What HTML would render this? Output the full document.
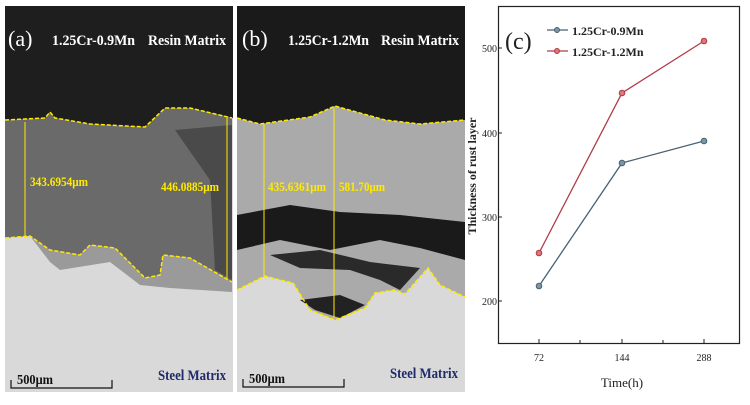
<!DOCTYPE html><html><head><style>body{margin:0;background:#fff;width:750px;height:400px;overflow:hidden}</style></head><body>
<svg width="750" height="400" xmlns="http://www.w3.org/2000/svg" font-family="Liberation Serif, serif">
<defs>
<clipPath id="ca"><rect x="5" y="6" width="228" height="386"/></clipPath>
<clipPath id="cb"><rect x="237" y="6" width="228" height="386"/></clipPath>
</defs>
<g clip-path="url(#ca)">
<rect x="5" y="6" width="228" height="386" fill="#d9d9d9"/>
<path d="M5,120 L45,118 L50,112 L55,118 L90,124 L145,127 L165,108 L190,108 L232,118 L232,282 L190,258 L163,255 L160,275 L145,278 L115,248 L90,245 L80,255 L50,250 L30,236 L5,238Z" fill="#6a6a6a"/>
<path d="M5,238 L30,236 L50,262 L60,270 L110,262 L140,285 L170,288 L232,292 L232,282 L190,258 L163,255 L160,275 L145,278 L115,248 L90,245 L80,255 L50,250 L30,236Z" fill="#9a9a9a"/>
<path d="M5,6 H233 V118 L190,108 L165,108 L145,127 L90,124 L55,118 L50,112 L45,118 L5,120Z" fill="#1e1e1e"/>
<path d="M175,130 L232,125 L232,280 L215,270 L210,180Z" fill="#4a4a4a"/>
<path d="M5,120 L45,118 L50,112 L55,118 L90,124 L145,127 L165,108 L190,108 L232,118" fill="none" stroke="#ffea00" stroke-width="1.5" stroke-dasharray="4,2"/>
<path d="M5,238 L30,236 L50,250 L80,255 L90,245 L115,248 L145,278 L160,275 L163,255 L190,258 L232,282" fill="none" stroke="#ffea00" stroke-width="1.5" stroke-dasharray="4,2"/>
<line x1="25" y1="122" x2="25" y2="236" stroke="#ffea00"/>
<line x1="227" y1="118" x2="227" y2="278" stroke="#ffea00"/>
</g>
<g clip-path="url(#cb)">
<rect x="237" y="6" width="228" height="386" fill="#d9d9d9"/>
<path d="M237,118 L260,124 L310,117 L335,106 L385,120 L420,124 L465,120 L465,297 L440,285 L428,268 L405,294 L395,290 L375,293 L365,308 L335,320 L310,310 L293,283 L280,280 L265,276 L237,290Z" fill="#aaaaaa"/>
<path d="M237,215 L290,205 L340,212 L400,215 L465,222 L465,260 L420,248 L380,240 L330,250 L280,240 L237,250Z" fill="#1a1a1a"/>
<path d="M270,255 L320,250 L370,262 L420,268 L400,290 L380,280 L350,270 L300,268Z" fill="#2a2a2a"/>
<path d="M300,300 L340,295 L365,305 L340,318 L315,310Z" fill="#222"/>
<path d="M237,6 H465 V120 L420,124 L385,120 L335,106 L310,117 L260,124 L237,118Z" fill="#1a1a1a"/>
<path d="M237,118 L260,124 L310,117 L335,106 L385,120 L420,124 L465,120" fill="none" stroke="#ffea00" stroke-width="1.5" stroke-dasharray="4,2"/>
<path d="M237,290 L265,276 L280,280 L293,283 L310,310 L335,320 L365,308 L375,293 L395,290 L405,294 L428,268 L440,285 L465,297" fill="none" stroke="#ffea00" stroke-width="1.5" stroke-dasharray="4,2"/>
<line x1="264" y1="124" x2="264" y2="276" stroke="#ffea00"/>
<line x1="334" y1="108" x2="334" y2="318" stroke="#ffea00"/>
</g>
<g fill="#fff" font-size="15"><text x="8" y="46" font-size="22">(a)</text><text x="52" y="45" font-weight="bold" textLength="83" lengthAdjust="spacingAndGlyphs">1.25Cr-0.9Mn</text><text x="148" y="45" font-weight="bold" textLength="78" lengthAdjust="spacingAndGlyphs">Resin Matrix</text>
<text x="242" y="46" font-size="22">(b)</text><text x="288" y="45" font-weight="bold" textLength="81" lengthAdjust="spacingAndGlyphs">1.25Cr-1.2Mn</text><text x="381" y="45" font-weight="bold" textLength="78" lengthAdjust="spacingAndGlyphs">Resin Matrix</text></g>
<g fill="#ffea00" font-size="13" font-weight="bold"><text x="30" y="186" textLength="58" lengthAdjust="spacingAndGlyphs">343.6954μm</text><text x="161" y="191" textLength="58" lengthAdjust="spacingAndGlyphs">446.0885μm</text><text x="268" y="191" textLength="58" lengthAdjust="spacingAndGlyphs">435.6361μm</text><text x="339" y="191" textLength="46" lengthAdjust="spacingAndGlyphs">581.70μm</text></g>
<g fill="#1e2a6a" font-size="15" font-weight="bold"><text x="158" y="380" textLength="68" lengthAdjust="spacingAndGlyphs">Steel Matrix</text><text x="390" y="378" textLength="68" lengthAdjust="spacingAndGlyphs">Steel Matrix</text></g>
<g fill="#111" font-size="14" font-weight="bold"><text x="17" y="384" textLength="36" lengthAdjust="spacingAndGlyphs">500μm</text><text x="249" y="383" textLength="36" lengthAdjust="spacingAndGlyphs">500μm</text></g>
<path d="M11,380 V388 H112 V380 M243,379 V387 H344 V379" fill="none" stroke="#111" stroke-width="1.2"/>
<rect x="498.5" y="6.5" width="241" height="337" fill="none" stroke="#222" stroke-width="1.2"/>
<g stroke="#222"><line x1="498" y1="48" x2="502" y2="48"/><line x1="498" y1="133" x2="502" y2="133"/><line x1="498" y1="217" x2="502" y2="217"/><line x1="498" y1="301" x2="502" y2="301"/>
<line x1="539" y1="343" x2="539" y2="339"/><line x1="580" y1="343" x2="580" y2="340"/><line x1="622" y1="343" x2="622" y2="339"/><line x1="663" y1="343" x2="663" y2="340"/><line x1="704" y1="343" x2="704" y2="339"/></g>
<g font-size="10" fill="#222" text-anchor="end"><text x="497" y="52">500</text><text x="497" y="137">400</text><text x="497" y="221">300</text><text x="497" y="305">200</text></g>
<g font-size="10" fill="#222" text-anchor="middle"><text x="539" y="361">72</text><text x="622" y="361">144</text><text x="704" y="361">288</text><text x="622" y="387" font-size="13">Time(h)</text></g>
<text transform="translate(476,176) rotate(-90)" font-size="12" font-weight="bold" text-anchor="middle" fill="#222">Thickness of rust layer</text>
<text x="505" y="49" font-size="24" fill="#222">(c)</text>
<polyline points="539,286 622,163 704,141" fill="none" stroke="#4a6272" stroke-width="1.3"/>
<polyline points="539,253 622,93 704,41" fill="none" stroke="#b03a48" stroke-width="1.3"/>
<g fill="#7a95a5" stroke="#4a6272"><circle cx="539" cy="286" r="2.8"/><circle cx="622" cy="163" r="2.8"/><circle cx="704" cy="141" r="2.8"/></g>
<g fill="#d77" stroke="#b03a48"><circle cx="539" cy="253" r="2.8"/><circle cx="622" cy="93" r="2.8"/><circle cx="704" cy="41" r="2.8"/></g>
<line x1="547" y1="30" x2="568" y2="30" stroke="#4a6272" stroke-width="1.3"/><circle cx="557" cy="30" r="2.5" fill="#7a95a5" stroke="#4a6272"/>
<line x1="547" y1="51" x2="568" y2="51" stroke="#b03a48" stroke-width="1.3"/><circle cx="557" cy="51" r="2.5" fill="#d77" stroke="#b03a48"/>
<g font-size="12" fill="#222" font-weight="bold"><text x="572" y="35">1.25Cr-0.9Mn</text><text x="572" y="56">1.25Cr-1.2Mn</text></g>
</svg></body></html>
